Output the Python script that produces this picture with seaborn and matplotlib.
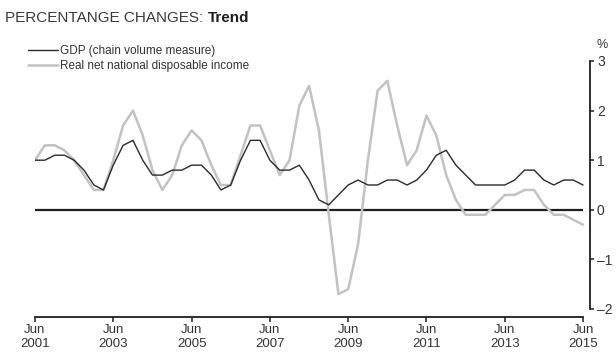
"""Percentage changes, trend: GDP vs real net national disposable income."""
import pandas as pd
import matplotlib
matplotlib.use("Agg")
import matplotlib.pyplot as plt
import matplotlib.dates as mdates
import seaborn as sns

# quarterly trend, % change, Jun 2001 .. Jun 2015
gdp = [1.0, 1.0, 1.1, 1.1, 1.0, 0.8, 0.5, 0.4, 0.9, 1.3,
       1.4, 1.0, 0.7, 0.7, 0.8, 0.8, 0.9, 0.9, 0.7, 0.4,
       0.5, 1.0, 1.4, 1.4, 1.0, 0.8, 0.8, 0.9, 0.6, 0.2,
       0.1, 0.3, 0.5, 0.6, 0.5, 0.5, 0.6, 0.6, 0.5, 0.6,
       0.8, 1.1, 1.2, 0.9, 0.7, 0.5, 0.5, 0.5, 0.5, 0.6,
       0.8, 0.8, 0.6, 0.5, 0.6, 0.6, 0.5]
rnndi = [1.0, 1.3, 1.3, 1.2, 1.0, 0.7, 0.4, 0.4, 1.0, 1.7,
         2.0, 1.5, 0.8, 0.4, 0.7, 1.3, 1.6, 1.4, 0.9, 0.5,
         0.5, 1.1, 1.7, 1.7, 1.2, 0.7, 1.0, 2.1, 2.5, 1.6,
         -0.1, -1.7, -1.6, -0.7, 1.0, 2.4, 2.6, 1.7, 0.9, 1.2,
         1.9, 1.5, 0.7, 0.2, -0.1, -0.1, -0.1, 0.1, 0.3, 0.3,
         0.4, 0.4, 0.1, -0.1, -0.1, -0.2, -0.3]
series_names = ["GDP (chain volume measure)", "Real net national disposable income"]
tick_years = [2001, 2003, 2005, 2007, 2009, 2011, 2013, 2015]
y_ticks = [3, 2, 1, 0, -1, -2]

quarters = pd.date_range("2001-06-30", "2015-06-30", freq="QE-DEC")

FONT = ["Liberation Sans", "DejaVu Sans"]
TEXT = "#333333"
INK = "#1e1e1e"

sns.set_style("white")
plt.rcParams["font.family"] = FONT

df = pd.DataFrame({"date": quarters, series_names[0]: gdp, series_names[1]: rnndi})

fig = plt.figure(figsize=(6.16, 3.59), dpi=100)
ax = fig.add_axes([35 / 616, 50 / 359, 555 / 616, 248 / 359])

ax.hlines(0, quarters[0], quarters[-1], color=INK, linewidth=1.6, zorder=1)
sns.lineplot(data=df, x="date", y=series_names[1], color="#c2c2c2", linewidth=1.8, ax=ax, zorder=2)
sns.lineplot(data=df, x="date", y=series_names[0], color="#2a2a2a", linewidth=1.0, ax=ax, zorder=3)

ax.set_xlim(quarters[0], quarters[-1] + pd.Timedelta(days=65))
ax.set_ylim(-2, 3)
ax.set_xlabel("")
ax.set_ylabel("")

ax.yaxis.tick_right()
ax.set_yticks(y_ticks)
ax.set_yticklabels([f"{v}".replace("-", "\u2013") for v in y_ticks])
ax.tick_params(axis="y", direction="out", length=3, width=1.1, pad=2,
               labelsize=10, labelcolor=TEXT, color=INK, right=True, left=False)

ticks = [pd.Timestamp(f"{y}-06-30") for y in tick_years]
ax.set_xticks(ticks)
ax.set_xticklabels([f"Jun\n{y}" for y in tick_years], linespacing=0.95)
ax.tick_params(axis="x", direction="out", length=3.5, width=1.1, pad=1.5,
               labelsize=9.5, labelcolor=TEXT, color=INK, bottom=True)

for side in ["left", "top"]:
    ax.spines[side].set_visible(False)
ax.spines["right"].set_bounds(-2, 3)
ax.spines["bottom"].set_bounds(mdates.date2num(quarters[0]), mdates.date2num(quarters[-1]))
ax.spines["bottom"].set_position(("outward", 5.8))
for side in ["right", "bottom"]:
    ax.spines[side].set_color(INK)
    ax.spines[side].set_linewidth(1.3)

fig.text(602 / 616, 1 - 45 / 359, "%", fontsize=9, color=TEXT, ha="center", va="center")

# title: regular caps followed by bold "Trend"
t1 = fig.text(5 / 616, 1 - 22 / 359, "PERCENTANGE CHANGES: ", fontsize=11,
              color="#3a3a3a", ha="left", va="baseline")
ax.annotate("Trend", xy=(1, 0), xycoords=t1, fontsize=11, fontweight="bold",
            color=INK, ha="left", va="bottom", annotation_clip=False)

handles = [ax.lines[-1], ax.lines[-2]]
fig.legend(handles, series_names, loc="upper left",
           bbox_to_anchor=(28 / 616, 1 - 45 / 359), frameon=False, fontsize=8.5,
           handlelength=2.5, handletextpad=0.2, labelspacing=0.25, borderpad=0,
           borderaxespad=0, labelcolor=TEXT)

fig.savefig("out.png", dpi=100)
